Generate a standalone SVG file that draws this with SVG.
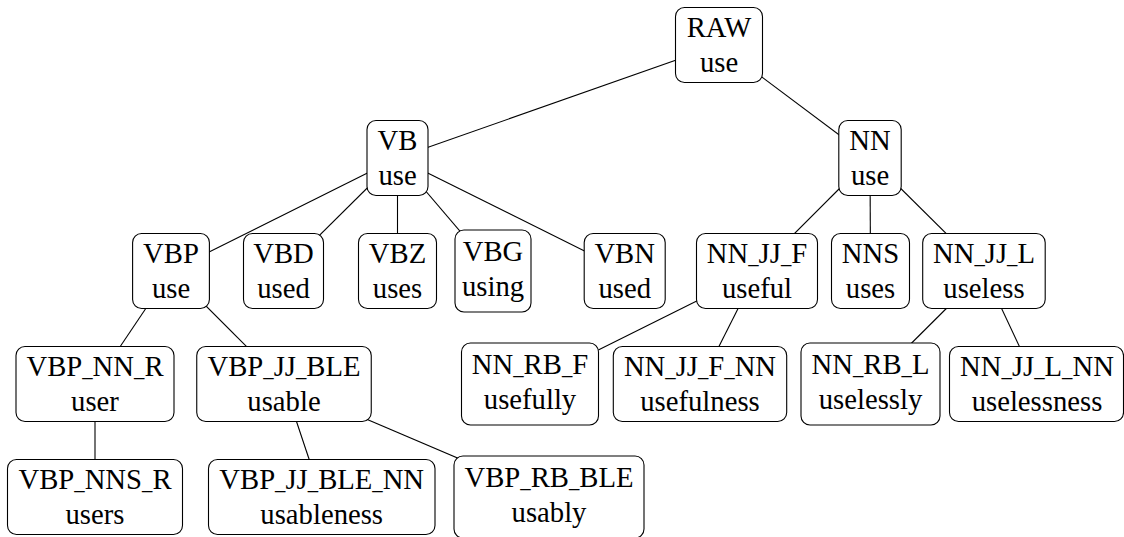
<svg xmlns="http://www.w3.org/2000/svg" width="1124" height="537" viewBox="0 0 1124 537">
<style>
.box{fill:#fff;stroke:#000;stroke-width:1.1}
text{font-family:"Liberation Serif","Nimbus Roman","Nimbus Roman No9 L","TeX Gyre Termes","FreeSerif","Tinos","Noto Serif","DejaVu Serif",Times,serif;font-size:28.7px;fill:#000;text-anchor:middle}
.u{font-size:20.7px}
#edges line{stroke:#000;stroke-width:1.1}
</style>
<rect width="1124" height="537" fill="#fff"/>
<g id="edges">
<line x1="719" y1="45" x2="397.5" y2="158"/>
<line x1="719" y1="45" x2="870" y2="158"/>
<line x1="397.5" y1="158" x2="171" y2="271"/>
<line x1="397.5" y1="158" x2="283.5" y2="271"/>
<line x1="397.5" y1="158" x2="397.5" y2="271"/>
<line x1="397.5" y1="158" x2="494" y2="271"/>
<line x1="397.5" y1="158" x2="624.7" y2="271"/>
<line x1="870" y1="158" x2="757" y2="271"/>
<line x1="870" y1="158" x2="870.5" y2="271"/>
<line x1="870" y1="158" x2="984" y2="271"/>
<line x1="171" y1="271" x2="95" y2="384"/>
<line x1="171" y1="271" x2="284" y2="384"/>
<line x1="757" y1="271" x2="530" y2="384"/>
<line x1="757" y1="271" x2="700" y2="384"/>
<line x1="984" y1="271" x2="870.5" y2="384"/>
<line x1="984" y1="271" x2="1037" y2="384"/>
<line x1="95" y1="384" x2="95" y2="497"/>
<line x1="284" y1="384" x2="321.7" y2="497"/>
<line x1="284" y1="384" x2="549" y2="497"/>
</g>
<g id="raw"><rect class="box" x="675.5" y="7.5" width="87" height="75" rx="9"/><text x="719" y="36.5">RAW</text><text x="719" y="72">use</text></g>
<g id="vb"><rect class="box" x="367" y="120.5" width="61" height="75" rx="9"/><text x="397.5" y="149.5">VB</text><text x="397.5" y="185">use</text></g>
<g id="nn"><rect class="box" x="838.8" y="120.5" width="62.4" height="75" rx="9"/><text x="870" y="149.5">NN</text><text x="870" y="185">use</text></g>
<g id="vbp"><rect class="box" x="132.6" y="233.5" width="76.8" height="75" rx="9"/><text x="171" y="262.5">VBP</text><text x="171" y="298">use</text></g>
<g id="vbd"><rect class="box" x="243.5" y="233.5" width="80" height="75" rx="9"/><text x="283.5" y="262.5">VBD</text><text x="283.5" y="298">used</text></g>
<g id="vbz"><rect class="box" x="358.5" y="233.5" width="78" height="75" rx="9"/><text x="397.5" y="262.5">VBZ</text><text x="397.5" y="298">uses</text></g>
<g id="vbg"><rect class="box" x="455" y="230" width="76" height="82" rx="9"/><text x="493" y="260.5">VBG</text><text x="493" y="296">using</text></g>
<g id="vbn"><rect class="box" x="584.2" y="233.5" width="81" height="75" rx="9"/><text x="624.7" y="262.5">VBN</text><text x="624.7" y="298">used</text></g>
<g id="nn_jj_f"><rect class="box" x="696.5" y="233.5" width="121" height="75" rx="9"/><text x="757" y="262.5">NN<tspan class="u">_</tspan>JJ<tspan class="u">_</tspan>F</text><text x="757" y="298">useful</text></g>
<g id="nns"><rect class="box" x="831.5" y="233.5" width="78" height="75" rx="9"/><text x="870.5" y="262.5">NNS</text><text x="870.5" y="298">uses</text></g>
<g id="nn_jj_l"><rect class="box" x="922.7" y="233.5" width="122.5" height="75" rx="9"/><text x="984" y="262.5">NN<tspan class="u">_</tspan>JJ<tspan class="u">_</tspan>L</text><text x="984" y="298">useless</text></g>
<g id="vbp_nn_r"><rect class="box" x="16" y="346.5" width="158" height="75" rx="9"/><text x="95" y="375.5">VBP<tspan class="u">_</tspan>NN<tspan class="u">_</tspan>R</text><text x="95" y="411">user</text></g>
<g id="vbp_jj_ble"><rect class="box" x="196.75" y="346.5" width="174.5" height="75" rx="9"/><text x="284" y="375.5">VBP<tspan class="u">_</tspan>JJ<tspan class="u">_</tspan>BLE</text><text x="284" y="411">usable</text></g>
<g id="nn_rb_f"><rect class="box" x="461.5" y="343" width="137" height="82" rx="9"/><text x="530" y="373.5">NN<tspan class="u">_</tspan>RB<tspan class="u">_</tspan>F</text><text x="530" y="409">usefully</text></g>
<g id="nn_jj_f_nn"><rect class="box" x="613.3" y="346.5" width="173.4" height="75" rx="9"/><text x="700" y="375.5">NN<tspan class="u">_</tspan>JJ<tspan class="u">_</tspan>F<tspan class="u">_</tspan>NN</text><text x="700" y="411">usefulness</text></g>
<g id="nn_rb_l"><rect class="box" x="801" y="343" width="139" height="82" rx="9"/><text x="870.5" y="373.5">NN<tspan class="u">_</tspan>RB<tspan class="u">_</tspan>L</text><text x="870.5" y="409">uselessly</text></g>
<g id="nn_jj_l_nn"><rect class="box" x="949.5" y="346.5" width="174" height="75" rx="9"/><text x="1037" y="375.5">NN<tspan class="u">_</tspan>JJ<tspan class="u">_</tspan>L<tspan class="u">_</tspan>NN</text><text x="1037" y="411">uselessness</text></g>
<g id="vbp_nns_r"><rect class="box" x="7.5" y="459.5" width="175" height="75" rx="9"/><text x="95" y="488.5">VBP<tspan class="u">_</tspan>NNS<tspan class="u">_</tspan>R</text><text x="95" y="524">users</text></g>
<g id="vbp_jj_ble_nn"><rect class="box" x="208.5" y="459.5" width="226.5" height="75" rx="9"/><text x="321.7" y="488.5">VBP<tspan class="u">_</tspan>JJ<tspan class="u">_</tspan>BLE<tspan class="u">_</tspan>NN</text><text x="321.7" y="524">usableness</text></g>
<g id="vbp_rb_ble"><rect class="box" x="454" y="456" width="190" height="82" rx="9"/><text x="549" y="486.5">VBP<tspan class="u">_</tspan>RB<tspan class="u">_</tspan>BLE</text><text x="549" y="522">usably</text></g>
</svg>
